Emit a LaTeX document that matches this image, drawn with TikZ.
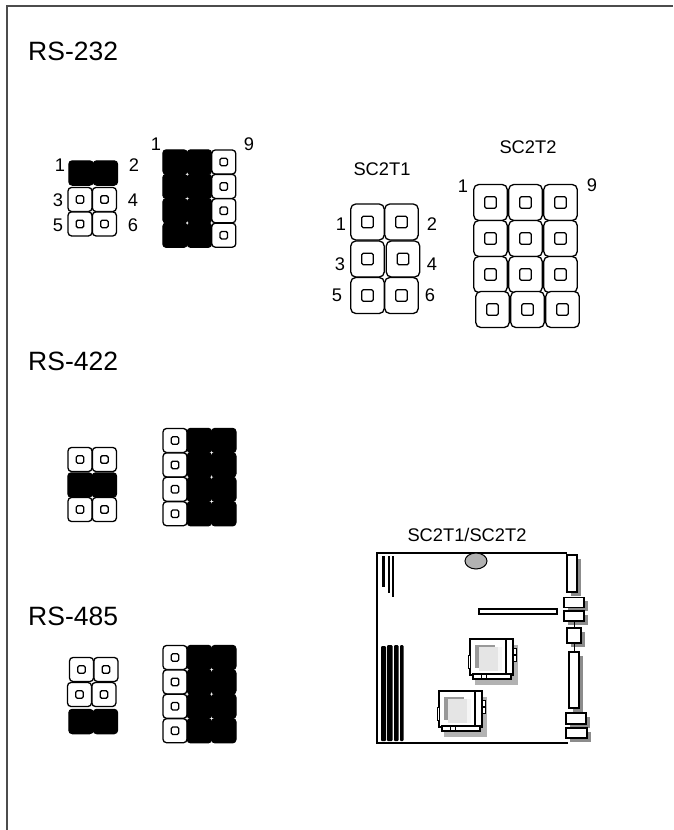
\documentclass[tikz,border=0pt]{standalone}
\usepackage{fontspec}
\setmainfont{Liberation Sans}
\usetikzlibrary{shadows,shapes.geometric}

\tikzset{
  sqr/.style={draw=black,line width=1.3pt,rounded corners=1.5pt,inner sep=0pt,minimum size=#1},
  pin/.style={draw=black,line width=1.3pt,fill=white,rounded corners=3.5pt,inner sep=0pt,
    minimum width=24pt,minimum height=24pt,
    path picture={\node[sqr=7.5pt] at (path picture bounding box.center) {};}},
  blk/.style={draw=black,line width=1pt,fill=black,rounded corners=3.5pt,inner sep=0pt,
    minimum width=24.5pt,minimum height=24.5pt},
  bigpin/.style={draw=black,line width=1.3pt,fill=white,rounded corners=5pt,inner sep=0pt,
    minimum width=33.5pt,minimum height=36pt,
    path picture={\node[sqr=11.5pt] at (path picture bounding box.center) {};}},
  head/.style={inner sep=0pt,anchor=west,font=\fontsize{26.5}{28}\selectfont},
  lab/.style={inner sep=0pt,font=\fontsize{18.3}{20}\selectfont},
  conn/.style={draw=black,line width=1.3pt,fill=white,inner sep=0pt,
    drop shadow={shadow xshift=3.5pt,shadow yshift=-3.5pt,fill=black!45,opacity=1}},
}

\begin{document}
\begin{tikzpicture}[x=1pt,y=-1pt,node distance=24.4pt]
    \useasboundingbox (0,0) rectangle (673,830);

    % page frame
    \draw[line width=2pt,black!70] (7,830) -- (7,6) -- (673,6);

    \node[head] (t232) at (28,51) {RS-232};
    \node[head] (t422) at (28,361) {RS-422};
    \node[head] (t485) at (28,616) {RS-485};

    % RS-232
    \node[blk] (a1) at (81,173) {};
    \node[blk] (a2) [right of=a1] {};
    \node[pin] (a3) at (80,199.5) {};
    \node[pin] (a4) [right of=a3] {};
    \node[pin] (a5) [below of=a3] {};
    \node[pin] (a6) [right of=a5] {};

    \node[lab] (la1) at (60,165) {1};
    \node[lab] (la2) at (134,165) {2};
    \node[lab] (la3) at (58,200) {3};
    \node[lab] (la4) at (133,200) {4};
    \node[lab] (la5) at (58,225) {5};
    \node[lab] (la6) at (133,225) {6};

    \node[blk] (b1) at (175,162) {};
    \foreach \i/\j in {1/2,2/3,3/4}
        \node[blk] (b\j) [below of=b\i] {};
    \foreach \i in {1,2,3,4} {
        \node[blk] (bm\i) [right of=b\i] {};
        \node[pin] (br\i) [right of=bm\i] {};
    }
    \node[lab] (lb1) at (156,144) {1};
    \node[lab] (lb9) at (249,144) {9};

    % SC2T1
    \begin{scope}[node distance=34pt]
        \node[bigpin] (c1) at (367.5,222) {};
        \node[bigpin] (c2) [right of=c1] {};
        \node[bigpin] (c3) at (367.5,259) {};
        \node[bigpin] (c4) [right of=c3,xshift=1.5pt] {};
        \node[bigpin] (c5) at (367.5,295.5) {};
        \node[bigpin] (c6) [right of=c5] {};
    \end{scope}
    \node[lab] (cap1) at (382,169) {SC2T1};
    \node[lab] (lc1) at (341,224) {1};
    \node[lab] (lc2) at (432,224) {2};
    \node[lab] (lc3) at (340,264) {3};
    \node[lab] (lc4) at (432,264) {4};
    \node[lab] (lc5) at (337,295) {5};
    \node[lab] (lc6) at (430,295) {6};

    % SC2T2
    \begin{scope}[node distance=35pt]
        \foreach \i/\px/\py in {1/490.5/202.5,2/490.5/238.5,3/490.5/274.5,4/492.5/309.5} {
            \node[bigpin] (d\i) at (\px,\py) {};
            \node[bigpin] (dm\i) [right of=d\i] {};
            \node[bigpin] (dr\i) [right of=dm\i] {};
        }
    \end{scope}
    \node[lab] (cap2) at (528,147) {SC2T2};
    \node[lab] (ld1) at (463,186) {1};
    \node[lab] (ld9) at (592,185) {9};

    % RS-422
    \node[pin] (e1) at (80,459.5) {};
    \node[pin] (e2) [right of=e1] {};
    \node[blk] (e3) at (80,485) {};
    \node[blk] (e4) [right of=e3] {};
    \node[pin] (e5) at (80,509.5) {};
    \node[pin] (e6) [right of=e5] {};

    \node[pin] (f1) at (175,440.5) {};
    \foreach \i/\j in {1/2,2/3,3/4}
        \node[pin] (f\j) [below of=f\i] {};
    \foreach \i in {1,2,3,4} {
        \node[blk] (fm\i) [right of=f\i] {};
        \node[blk] (fr\i) [right of=fm\i] {};
    }

    % RS-485
    \node[pin] (g1) at (81.5,669.5) {};
    \node[pin] (g2) [right of=g1] {};
    \node[pin] (g3) at (79.5,694.5) {};
    \node[pin] (g4) [right of=g3] {};
    \node[blk] (g5) at (81,721.5) {};
    \node[blk] (g6) [right of=g5] {};

    \node[pin] (h1) at (175,657.5) {};
    \foreach \i/\j in {1/2,2/3,3/4}
        \node[pin] (h\j) [below of=h\i] {};
    \foreach \i in {1,2,3,4} {
        \node[blk] (hm\i) [right of=h\i] {};
        \node[blk] (hr\i) [right of=hm\i] {};
    }

    % board
    \node[lab] (cap3) at (467,535) {SC2T1/SC2T2};
    \draw[line width=1.3pt] (568,743) -- (377,743) -- (377,553) -- (567,553);
    \node[draw=black,line width=1pt,fill=black!30,ellipse,inner sep=0pt,
        minimum width=22pt,minimum height=16pt] (fan) at (476,561) {};
    \fill (382,556) rectangle (384.5,587);
    \fill (387.5,556) rectangle (390,593);
    \fill (391.5,556) rectangle (394,597);
    \fill[rounded corners=1pt] (381,646) rectangle (386,741);
    \fill[rounded corners=1pt] (387,645) rectangle (392.5,741);
    \fill[rounded corners=1pt] (394,645) rectangle (398.5,741);
    \fill[rounded corners=1pt] (400,645) rectangle (403.5,741);
    \node[draw=black,line width=1.3pt,fill=white,inner sep=0pt,
        minimum width=78pt,minimum height=5pt] (slot) at (518,611.5) {};

    \node[conn,minimum width=10pt,minimum height=37pt] (p1) at (572,573.5) {};
    \node[conn,minimum width=20pt,minimum height=10pt] (p2) at (574,602.5) {};
    \node[conn,minimum width=20pt,minimum height=10pt] (p3) at (574,616) {};
    \node[conn,minimum width=14pt,minimum height=15pt] (p4) at (574,635.5) {};
    \node[conn,minimum width=10pt,minimum height=56pt] (p5) at (574,680) {};
    \node[conn,minimum width=20pt,minimum height=11pt] (p6) at (576,718.5) {};
    \node[conn,minimum width=21pt,minimum height=10pt] (p7) at (576.5,733) {};
    \draw[line width=.6pt] (p3) -- (p4);
    \draw[line width=.6pt] (p4) -- (p5);

    % sockets
    \foreach \sx/\sy in {0/0,-31/52} {
        \begin{scope}[shift={(\sx,\sy)}]
            \fill[black!30] (475,645) rectangle (518,685);
            \draw[line width=1.3pt,fill=white] (470,639) rectangle (513,675);
            \fill[black!40] (475,645) rectangle (495,668);
            \fill[black!4] (479,647) rectangle (502,671);
            \fill[black!10] (479,647) rectangle (498,671);
            \draw[line width=1.3pt] (506,639) -- (506,675);
            \draw[line width=1.3pt,fill=white] (473,674) rectangle (511,679);
            \draw[line width=.8pt] (481,674) -- (481,679);
            \draw[line width=.8pt] (486,674) -- (486,679);
            \draw[line width=1pt,fill=white] (513,648) rectangle (516,654);
            \draw[line width=1pt,fill=white] (513,655) rectangle (516,661);
            \draw[line width=1pt,fill=white] (468,655) rectangle (470,668);
        \end{scope}
    }
\end{tikzpicture}
\end{document}
